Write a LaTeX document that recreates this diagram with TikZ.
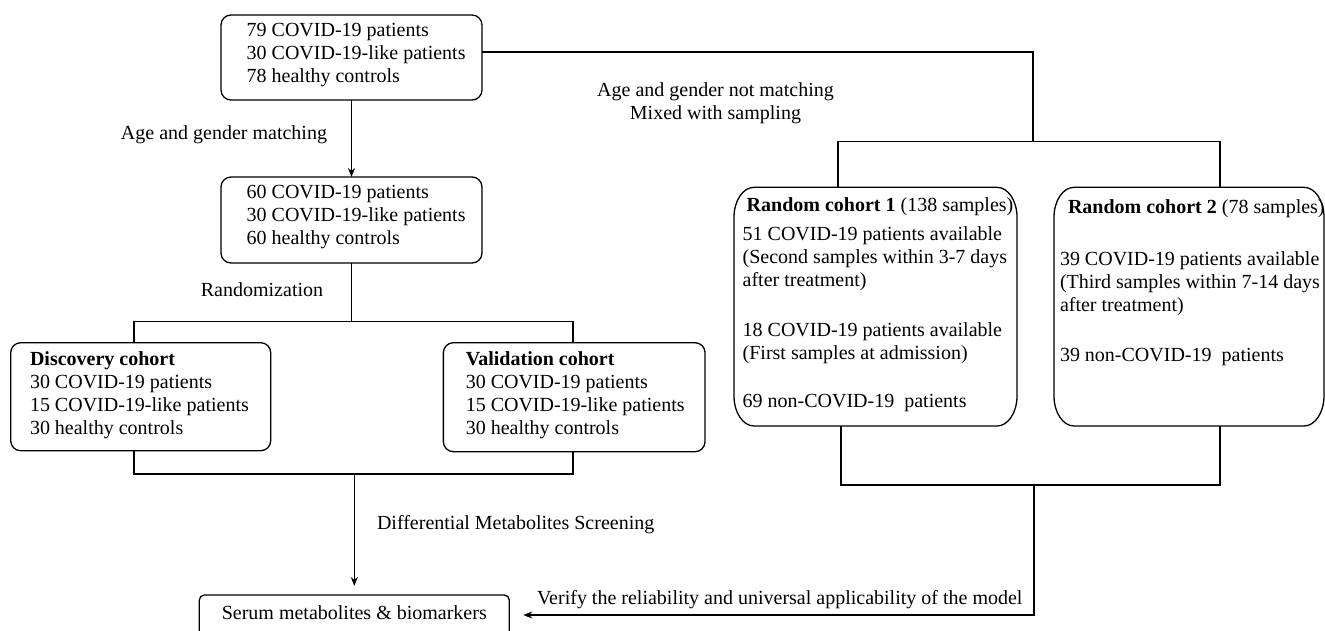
\documentclass[tikz,border=0pt]{standalone}
\usepackage{fontspec}
\setmainfont{Liberation Serif}
\usetikzlibrary{arrows.meta}
\newcommand\boxtxt[5]{\parbox[c][#2][t]{#1}{\vspace*{#3}\hspace*{#4}\begin{tabular}[t]{@{}l@{}}#5\end{tabular}}}
\begin{document}
\begin{tikzpicture}[x=1pt,y=-1pt,
  every node/.style={font=\fontsize{20}{23}\selectfont, inner sep=0pt, outer sep=0pt},
  conn/.style={line width=1.3pt, black},
  arr/.style={conn, -{Stealth[length=9pt,width=7pt]}},
  rbox/.style={draw, line width=1.3pt, rounded corners=10pt},
  ebox/.style={draw=none},
  lbl/.style={font=\fontsize{20}{23}\selectfont}
]
\useasboundingbox (0,0) rectangle (1325,630);

% boxes
\node[rbox] (A) at (351.5,57.5) {\boxtxt{261pt}{85pt}{5.6pt}{25.7pt}{79 COVID-19 patients\\30 COVID-19-like patients\\78 healthy controls}};
\node[rbox] (B) at (351.5,220) {\boxtxt{261pt}{86pt}{5.6pt}{25.7pt}{60 COVID-19 patients\\30 COVID-19-like patients\\60 healthy controls}};
\node[rbox] (C) at (140.7,396.7) {\boxtxt{260pt}{108pt}{6.2pt}{19.3pt}{\textbf{Discovery cohort}\\30 COVID-19 patients\\15 COVID-19-like patients\\30 healthy controls}};
\node[rbox] (D) at (574.2,397.2) {\boxtxt{261.7pt}{109pt}{6.2pt}{22.4pt}{\textbf{Validation cohort}\\30 COVID-19 patients\\15 COVID-19-like patients\\30 healthy controls}};
\node[rbox, rounded corners=5pt] (E) at (354.3,625) {\parbox[c][60pt][t]{310pt}{\centering\vspace*{11pt}Serum metabolites \& biomarkers}};
\node[ebox] (F) at (875.5,306.65) {\boxtxt{283pt}{238.7pt}{7.6pt}{8.7pt}{\hspace*{4pt}\textbf{Random cohort 1} (138 samples)\\[6pt]51 COVID-19 patients available\\(Second samples within 3-7 days\\after treatment)\\[27pt]18 COVID-19 patients available\\(First samples at admission)\\[25pt]69 non-COVID-19 \ patients}};
\node[ebox] (G) at (1189,306.65) {\boxtxt{270pt}{238.7pt}{9.9pt}{6pt}{\hspace*{8pt}\textbf{Random cohort 2} (78 samples)\\[29pt]39 COVID-19 patients available\\(Third samples within 7-14 days\\after treatment)\\[27pt]39 non-COVID-19 \ patients}};

% curved outlines of F and G
\foreach \n in {F,G}{
\draw[conn] ([xshift=20pt]\n.north west) -- ([xshift=-20pt]\n.north east)
  arc[start angle=90,end angle=0,x radius=20pt,y radius=30pt]
  -- ([yshift=30pt]\n.south east)
  arc[start angle=0,end angle=-90,x radius=20pt,y radius=30pt]
  -- ([xshift=20pt]\n.south west)
  arc[start angle=270,end angle=180,x radius=20pt,y radius=30pt]
  -- ([yshift=-30pt]\n.north west)
  arc[start angle=180,end angle=90,x radius=20pt,y radius=30pt] -- cycle;
}

% junction coordinates
\coordinate (k1) at (1033,52);
\coordinate (rt) at (1033,141.7);
\coordinate (fT) at (838,141.7);
\coordinate (gT) at (1220,141.7);
\coordinate (fB) at (841,485);
\coordinate (gB) at (1220,485);
\coordinate (rb) at (1034,485);
\coordinate (rc) at (1034,615);
\coordinate (bl) at (134,321.7);
\coordinate (br) at (573,321.7);
\coordinate (cl) at (134,474);
\coordinate (cr) at (573,474);
\coordinate (cm) at (354.3,474);

% left branch
\draw[arr] (A.south) -- (B.north);
\draw[conn] (B.south) -- (B.south |- bl);
\draw[conn] (C.north -| bl) -- (bl) -- (br) -- (D.north -| br);
\draw[conn] (C.south -| cl) -- (cl) -- (cr) -- (D.south -| cr);
\draw[arr, shorten >=9pt] (cm) -- (E.north);

% right branch
\draw[conn] (A.east |- k1) -- (k1) -- (rt);
\draw[conn] (F.north -| fT) -- (fT) -- (gT) -- (G.north -| gT);
\draw[conn] (F.south -| fB) -- (fB) -- (gB) -- (G.south -| gB);
\draw[arr] (rb) -- (rc) -- ([xshift=14pt]E.east |- rc);

% labels
\node[lbl, anchor=east] (l1) at (327,135) {Age and gender matching};
\node[lbl] (l2) at (262,290) {Randomization};
\node[lbl, align=center] (l3) at (715.5,103.5) {Age and gender not matching\\Mixed with sampling};
\node[lbl, anchor=west] (l4) at (377,525) {Differential Metabolites Screening};
\node[lbl, anchor=west] (l5) at (537,600) {Verify the reliability and universal applicability of the model};
\end{tikzpicture}
\end{document}
